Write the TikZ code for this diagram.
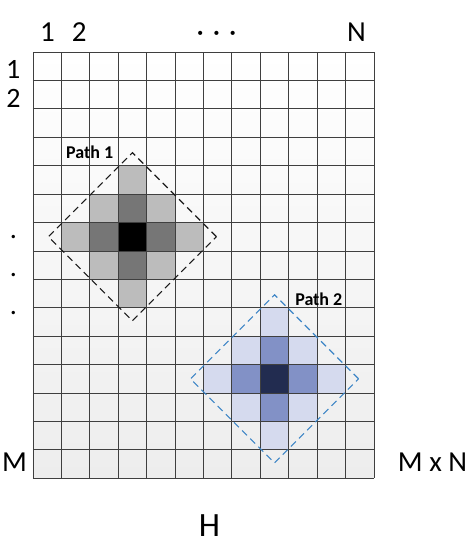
\documentclass[tikz,border=0pt]{standalone}
\usepackage{fontspec}
\setmainfont{Carlito}
\usetikzlibrary{positioning, shapes.geometric}
\definecolor{grid_line}{HTML}{3F3F3F}
\definecolor{grid_fill}{HTML}{EDEDED}
\definecolor{path1_peak}{HTML}{000000}
\definecolor{path1_mid}{HTML}{767676}
\definecolor{path1_low}{HTML}{BCBCBC}
\definecolor{path1_dash}{HTML}{1A1A1A}
\definecolor{path2_peak}{HTML}{222C50}
\definecolor{path2_mid}{HTML}{8291C6}
\definecolor{path2_low}{HTML}{D5DAEE}
\definecolor{path2_dash}{HTML}{3D85C6}

\begin{document}
\begin{tikzpicture}[
    x=28.42pt,
    y=-28.42pt,
    axis_label/.style={
        anchor=base,
        inner sep=0pt,
        font=\fontsize{29}{35}\selectfont
    },
    row_label/.style={axis_label, font=\fontsize{28}{30}\selectfont},
    grid_label/.style={axis_label, font=\fontsize{34}{40}\selectfont},
    path_box/.style={
        diamond,
        draw=#1,
        dash pattern=on 7pt off 4.5pt,
        line width=1.1pt,
        minimum size=168pt,
        inner sep=0pt,
        outer sep=0pt
    },
    path_label/.style={inner sep=0pt, font=\fontsize{18}{21}\selectfont\bfseries}
]

\useasboundingbox (-1.161,-1.830) rectangle (15.412,17.452);

\fill[top color=white, bottom color=grid_fill] (0,0) rectangle (12,15);

\foreach \px/\py/\name in {3/6/path1, 8/11/path2} {
    \foreach \dx/\dy/\lvl in {0/-2/low, -1/-1/low, 0/-1/mid, 1/-1/low,
                              -2/0/low, -1/0/mid, 0/0/peak, 1/0/mid, 2/0/low,
                              -1/1/low, 0/1/mid, 1/1/low, 0/2/low} {
        \fill[fill=\name_\lvl] (\px+\dx,\py+\dy) rectangle ++(1,1);
    }
}

\foreach \i in {0,...,12} {
    \draw[grid_line, line width=0.9pt] (\i,0) -- (\i,15);
}
\foreach \j in {0,...,15} {
    \draw[grid_line, line width=0.9pt] (0,\j) -- (12,\j);
}

\node[path_box=path1_dash] (path1) at (3.5,6.5) {};
\node[path_box=path2_dash] (path2) at (8.5,11.5) {};
\node[path_label, left=19pt of path1.north] (path1_name) {Path 1};
\node[path_label, right=20.5pt of path2.north, yshift=-4.5pt] (path2_name) {Path 2};

\node[axis_label] (col1) at (0.51,-0.362) {1};
\node[axis_label] (col2) at (1.63,-0.362) {2};
\node[axis_label] (col_dots) at (6.46,-0.362) {·\hspace{9pt}·\hspace{9pt}·};
\node[axis_label] (colN) at (11.38,-0.362) {N};

\node[row_label] (row1) at (-0.70,0.94) {1};
\node[row_label] (row2) at (-0.69,1.94) {2};
\foreach \y [count=\k] in {6.56, 7.90, 9.23} {
    \node[row_label] (row_dot\k) at (-0.693,\y) {.};
}
\node[axis_label] (rowM) at (-0.65,14.76) {M};

\node[axis_label] (size) at (14.06,14.76) {M x N};
\node[grid_label] (grid_name) at (6.21,17.03) {H};

\end{tikzpicture}
\end{document}
